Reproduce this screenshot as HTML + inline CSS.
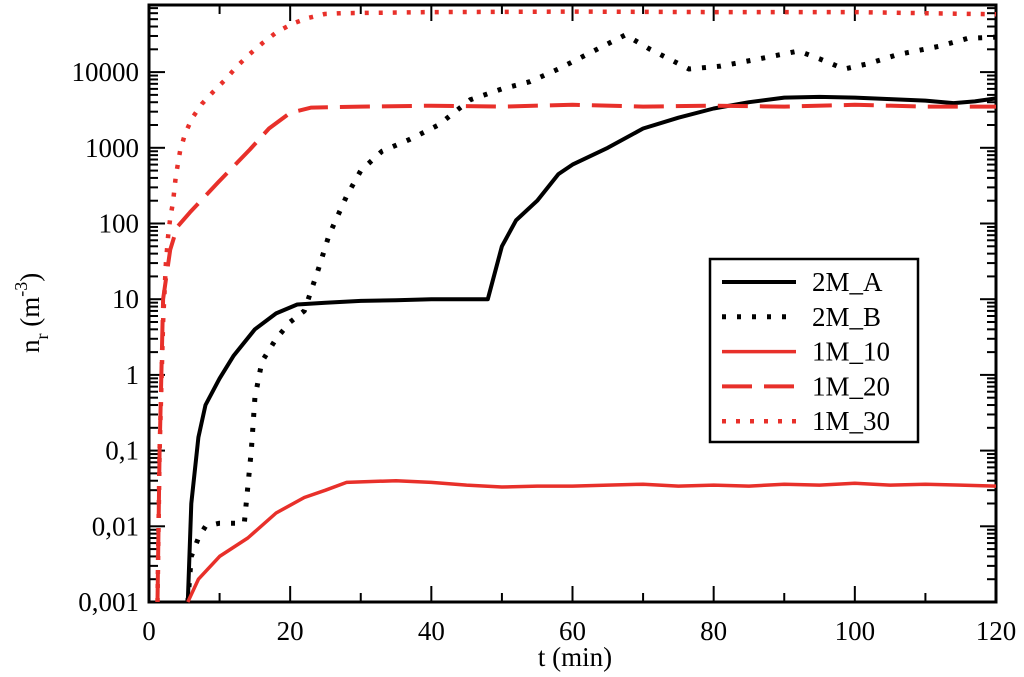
<!DOCTYPE html>
<html><head><meta charset="utf-8"><style>
html,body{margin:0;padding:0;background:#fff;}
svg{display:block;font-family:"Liberation Serif",serif;}
</style></head><body>
<svg id="chart" width="1024" height="677" viewBox="0 0 1024 677">
<g id="plot"></g>
</svg>
<script>
const xTicks=[0,20,40,60,80,100,120];
const yTicks=[0.001,0.01,0.1,1,10,100,1000,10000];
const yTickLabels=["0,001","0,01","0,1","1","10","100","1000","10000"];
const seriesNames=["2M_A","2M_B","1M_10","1M_20","1M_30"];
const tA=[5.5,6,7,8,10,12,15,18,21,25,30,35,40,45,48,50,52,55,58,60,65,70,75,80,85,90,95,100,105,110,114,117,120];
const vA=[0.001,0.02,0.15,0.4,0.9,1.8,4,6.5,8.5,9,9.5,9.7,10,10,10,50,110,200,450,600,1000,1800,2500,3300,4000,4600,4700,4600,4400,4200,3900,4100,4500];
const tB=[5.5,6,7,8,10,13.5,14.5,15,16,18,20,22,24,25.5,28,30,33,37,41,45.5,50,54,58,62.5,67.5,71,76.5,81,86.5,92,95,98.5,102,106,112,116,120];
const vB=[0.001,0.004,0.007,0.01,0.011,0.011,0.1,0.5,1.5,3,5,7,25,70,230,500,900,1300,2000,4300,6000,7500,11000,18000,31000,20000,11000,12000,15000,19000,15000,11000,13000,17000,22000,28000,29000];
const t10=[5.5,7,10,14,18,22,25,28,35,40,45,50,55,60,65,70,75,80,85,90,95,100,105,110,115,120];
const v10=[0.001,0.002,0.004,0.007,0.015,0.024,0.03,0.038,0.04,0.038,0.035,0.033,0.034,0.034,0.035,0.036,0.034,0.035,0.034,0.036,0.035,0.037,0.035,0.036,0.035,0.034];
const t20=[1.2,1.5,2,3,4,5.8,9.8,14.3,17,20,23,30,40,50,60,70,80,90,100,110,120];
const v20=[0.001,0.1,10,45,90,140,350,950,1800,2900,3400,3500,3600,3500,3700,3500,3600,3500,3700,3500,3500];
const t30=[1.2,1.5,2,2.4,2.7,3.0,3.4,3.8,4.4,5.1,6.1,7.5,9.1,10.9,12.5,14.3,16.1,18.1,20.3,22.4,24.9,27.3,40,60,80,100,120];
const v30=[0.001,0.1,5,30,68,118,190,420,910,1520,2460,3800,5500,8100,12000,17400,24200,33800,43400,51600,58500,60000,62000,63000,62000,62000,58000];

const X0=149,X1=996,Y0=602,YT=5,DEC=75.7;
const xs=t=>X0+(t/120)*(X1-X0);
const ys=v=>Y0-(Math.log10(v)+3)*DEC;
const NS="http://www.w3.org/2000/svg";
const svg=document.getElementById('chart');
function mk(tag,at,parent){const e=document.createElementNS(NS,tag);for(const k in at)e.setAttribute(k,at[k]);(parent||svg).appendChild(e);return e;}

// ticks
const ticks=mk('g',{stroke:'#000','stroke-width':2});


for(let t=0;t<=120;t+=10){const x=xs(t),L=(t%20===0)?16:9;
 mk('line',{x1:x,x2:x,y1:Y0,y2:Y0-L},ticks);mk('line',{x1:x,x2:x,y1:YT,y2:YT+L},ticks);}
for(let d=-3;d<=4;d++){for(let m=1;m<=9;m++){const v=m*Math.pow(10,d);const y=ys(v);if(y<YT)continue;const L=m===1?16:9;
 mk('line',{x1:X0,x2:X0+L,y1:y,y2:y},ticks);mk('line',{x1:X1,x2:X1-L,y1:y,y2:y},ticks);}}
// frame
const fr=mk('rect',{x:X0,y:YT,width:X1-X0,height:Y0-YT,fill:'none',stroke:'#000','stroke-width':3});


// labels
xTicks.forEach(t=>{const e=mk('text',{x:xs(t),y:640,'text-anchor':'middle','font-size':27});e.textContent=t;
 
 });
yTicks.forEach((v,i)=>{const e=mk('text',{x:139,y:ys(v)+9,'text-anchor':'end','font-size':27});e.textContent=yTickLabels[i];
 
 });
const xt=mk('text',{x:575,y:666,'text-anchor':'middle','font-size':27});xt.textContent='t (min)';


const yt=mk('text',{transform:'translate(39,353) rotate(-90)','font-size':27});
yt.innerHTML='n<tspan dy="9" font-size="18">r</tspan><tspan dy="-9"> (m</tspan><tspan dy="-12" font-size="18">-3</tspan><tspan dy="12">)</tspan>';



const styles=[
 {stroke:'#000','stroke-width':4,da:''},
 {stroke:'#000','stroke-width':5,da:'4 11'},
 {stroke:'#e8302a','stroke-width':3.5,da:''},
 {stroke:'#e8302a','stroke-width':4,da:'30 12'},
 {stroke:'#e8302a','stroke-width':4.5,da:'4 10'}];
const data=[[tA,vA],[tB,vB],[t10,v10],[t20,v20],[t30,v30]];
const ids=['line-2m-a','line-2m-b','line-1m-10','line-1m-20','line-1m-30'];
data.forEach((d,i)=>{const pts=d[0].map((t,j)=>xs(t).toFixed(1)+','+ys(d[1][j]).toFixed(1)).join(' ');
 const s=styles[i];const p=mk('polyline',{points:pts,fill:'none',stroke:s.stroke,'stroke-width':s['stroke-width'],'stroke-dasharray':s.da,'stroke-linejoin':'round'});
 
 });

// legend
const lg=mk('g',{});


mk('rect',{x:710,y:259,width:208,height:183,fill:'#fff',stroke:'#000','stroke-width':2.5},lg);
seriesNames.forEach((n,i)=>{const y=282+i*34.8;const s=styles[i];
 const en=mk('g',{},lg);
 
 
 mk('line',{x1:722,x2:796,y1:y,y2:y,stroke:s.stroke,'stroke-width':s['stroke-width'],'stroke-dasharray':s.da},en);
 const t=mk('text',{x:812,y:y+9,'font-size':27},en);t.textContent=n;});
</script>
</body></html>
